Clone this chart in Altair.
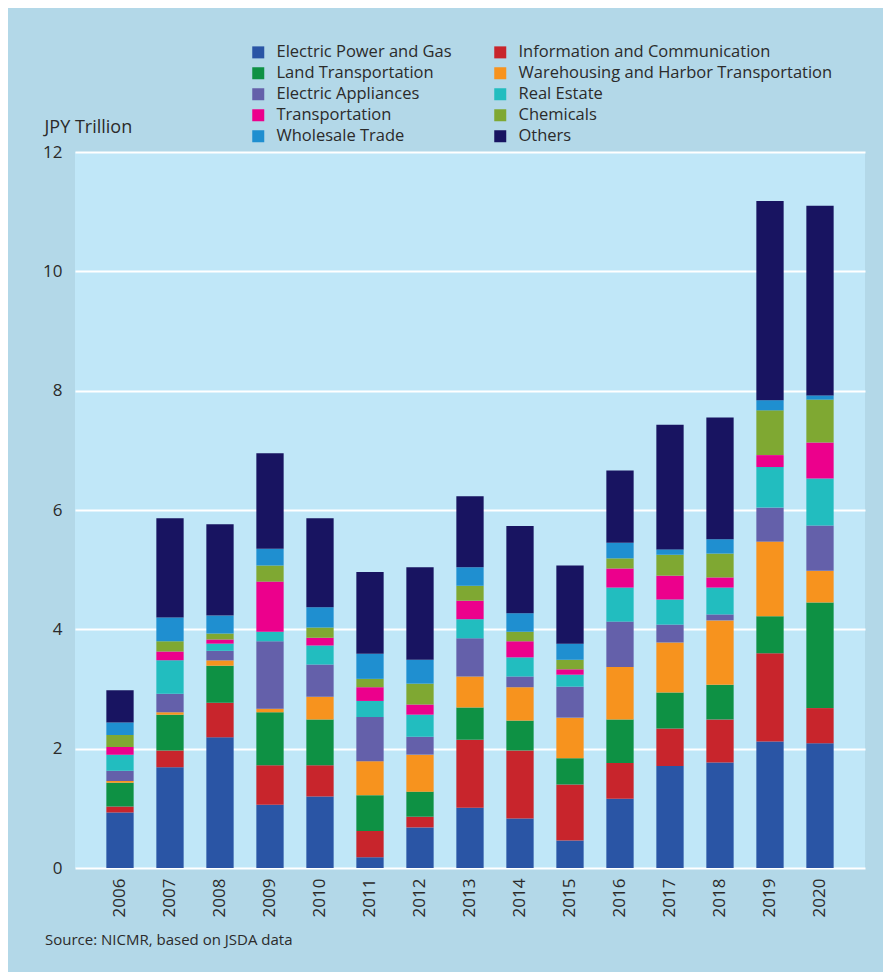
import altair as alt
import pandas as pd

years = [str(y) for y in range(2006, 2021)]

sectors = [
    "Electric Power and Gas", "Information and Communication",
    "Land Transportation", "Warehousing and Harbor Transportation",
    "Electric Appliances", "Real Estate",
    "Transportation", "Chemicals",
    "Wholesale Trade", "Others",
]
colors = ["#2a55a5", "#c8252c", "#0e9144", "#f7931e", "#6460aa",
          "#22bdbf", "#ec008c", "#7fa832", "#1f8fd0", "#181461"]

electric_power_gas = [0.93, 1.69, 2.19, 1.06, 1.20, 0.18, 0.68, 1.01, 0.83, 0.46, 1.16, 1.71, 1.77, 2.12, 2.09]
info_comm =          [0.10, 0.28, 0.58, 0.66, 0.52, 0.44, 0.18, 1.14, 1.14, 0.94, 0.60, 0.63, 0.72, 1.48, 0.59]
land_transport =     [0.40, 0.60, 0.62, 0.89, 0.77, 0.60, 0.42, 0.54, 0.50, 0.44, 0.73, 0.60, 0.58, 0.62, 1.77]
warehousing =        [0.03, 0.04, 0.09, 0.06, 0.38, 0.57, 0.62, 0.52, 0.56, 0.68, 0.88, 0.84, 1.08, 1.25, 0.53]
electric_appl =      [0.17, 0.31, 0.16, 1.13, 0.54, 0.74, 0.30, 0.64, 0.18, 0.52, 0.76, 0.30, 0.10, 0.57, 0.76]
real_estate =        [0.27, 0.56, 0.12, 0.16, 0.32, 0.27, 0.37, 0.32, 0.32, 0.20, 0.57, 0.42, 0.45, 0.68, 0.79]
transportation =     [0.13, 0.15, 0.07, 0.84, 0.13, 0.23, 0.17, 0.31, 0.27, 0.09, 0.32, 0.40, 0.17, 0.20, 0.60]
chemicals =          [0.20, 0.17, 0.10, 0.27, 0.17, 0.14, 0.35, 0.25, 0.16, 0.16, 0.17, 0.35, 0.40, 0.75, 0.72]
wholesale =          [0.21, 0.40, 0.30, 0.28, 0.34, 0.42, 0.40, 0.31, 0.31, 0.27, 0.26, 0.09, 0.24, 0.17, 0.07]
others =             [0.54, 1.66, 1.53, 1.60, 1.49, 1.37, 1.55, 1.19, 1.46, 1.31, 1.21, 2.09, 2.04, 3.34, 3.18]

series = [electric_power_gas, info_comm, land_transport, warehousing, electric_appl,
          real_estate, transportation, chemicals, wholesale, others]

y_ticks = [0, 2, 4, 6, 8, 10, 12]
y_title = "JPY Trillion"
source_text = ["Source: NICMR, based on JSDA data"]

rows = []
for i, (name, vals) in enumerate(zip(sectors, series)):
    for yr, v in zip(years, vals):
        rows.append({"year": yr, "sector": name, "value": v, "idx": i})
df = pd.DataFrame(rows)

# legend is filled column by column: left column, then right column
legend_order = sectors[0::2] + sectors[1::2]
legend_colors = colors[0::2] + colors[1::2]

FONT = "Open Sans"
TXT = "#2b2b2b"

bars = alt.Chart(df).mark_bar().encode(
    x=alt.X("year:O", sort=years,
            scale=alt.Scale(paddingInner=0.454, paddingOuter=0.627),
            axis=alt.Axis(title=None, labelAngle=-90, labelFont=FONT, labelFontSize=17,
                          labelColor=TXT, ticks=False, domain=False, labelPadding=10,
                          grid=False)),
    y=alt.Y("value:Q", stack="zero",
            scale=alt.Scale(domain=[0, 12], nice=False),
            axis=alt.Axis(values=y_ticks, title=y_title, titleAngle=0, titleAlign="left",
                          titleBaseline="alphabetic", titleX=-31, titleY=-20,
                          titleFont=FONT, titleFontSize=18, titleFontWeight="normal",
                          titleColor=TXT, labelFont=FONT, labelFontSize=17, labelColor=TXT,
                          ticks=False, domain=False, labelPadding=13,
                          grid=True, gridColor="#ffffff", gridWidth=2)),
    color=alt.Color("sector:N",
                    scale=alt.Scale(domain=legend_order, range=legend_colors),
                    legend=alt.Legend(title=None, orient="none", legendX=175, legendY=-108,
                                      columns=2, symbolType="square", symbolSize=144,
                                      symbolStrokeWidth=0, labelFont=FONT, labelFontSize=16.5,
                                      labelColor=TXT, labelOffset=10, rowPadding=4,
                                      columnPadding=40, labelLimit=400)),
    order=alt.Order("idx:Q", sort="ascending"),
)

src = alt.Chart(pd.DataFrame({"t": source_text})).mark_text(
    align="left", baseline="alphabetic", font=FONT, fontSize=15, color=TXT
).encode(x=alt.value(-30), y=alt.value(793), text="t:N")

chart = alt.layer(bars, src).properties(
    width=790, height=716,
    background="#b3d8e8",
    padding={"left": 67, "top": 144, "right": 18, "bottom": 104},
    autosize=alt.AutoSizeParams(type="none"),
).configure_view(fill="#c0e7f8", stroke=None)

chart.save("out.html", embed_options={"renderer": "svg", "actions": False})
